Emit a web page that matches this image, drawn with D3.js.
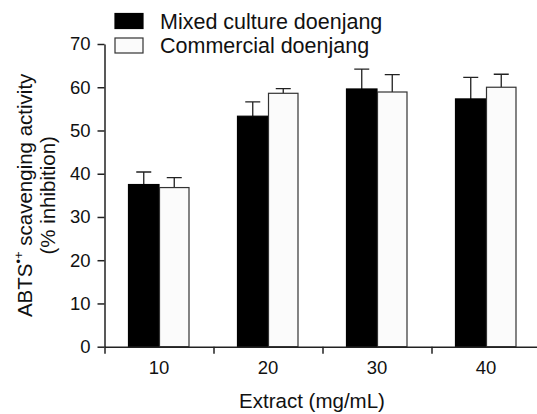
<!DOCTYPE html>
<html>
<head>
<meta charset="utf-8">
<script src="https://cdn.jsdelivr.net/npm/d3@7"></script>
<style>
  body { margin: 0; background: #fff; }
  svg text { font-family: "Liberation Sans", Arial, sans-serif; fill: #111; }
</style>
</head>
<body>
<div id="chart"></div>
<script>
// data
const extracts = ["10", "20", "30", "40"];
const seriesNames = ["Mixed culture doenjang", "Commercial doenjang"];
const mixedMean = [37.5, 53.3, 59.6, 57.3];
const mixedErr = [2.9, 3.3, 4.6, 5.0];
const commercialMean = [36.8, 58.6, 58.9, 60.0];
const commercialErr = [2.3, 1.1, 4.0, 3.0];
const yTicks = [0, 10, 20, 30, 40, 50, 60, 70];

const W = 537, H = 414;
const plot = { left: 104.5, right: 540.5, top: 44, bottom: 346.7 };

const svg = d3.select("#chart").append("svg")
  .attr("width", W)
  .attr("height", H);

// scales
const y = d3.scaleLinear().domain([0, 70]).range([plot.bottom, plot.top]);
const x = d3.scaleBand().domain(extracts).range([plot.left, plot.right]);
const xEdge = d3.scaleLinear().domain([0, extracts.length]).range([plot.left, plot.right]);
const xSub = d3.scaleBand().domain(seriesNames).range([0, 61]);
const groupOffset = (x.bandwidth() - xSub.range()[1]) / 2;

const colors = { fill: ["#000000", "#fbfbfb"], stroke: ["#000000", "#333333"] };

const rows = extracts.map((e, i) => ({
  extract: e,
  vals: [
    { name: seriesNames[0], mean: mixedMean[i], err: mixedErr[i], k: 0 },
    { name: seriesNames[1], mean: commercialMean[i], err: commercialErr[i], k: 1 }
  ]
}));

// bars
const groups = svg.append("g")
  .selectAll("g")
  .data(rows)
  .join("g")
  .attr("transform", d => `translate(${x(d.extract) + groupOffset},0)`);

// error bars (upper only)
groups.selectAll("path.err")
  .data(d => d.vals)
  .join("path")
  .attr("class", "err")
  .attr("fill", "none")
  .attr("stroke", "#222")
  .attr("stroke-width", 1.3)
  .attr("d", d => {
    const cx = xSub(d.name) + xSub.bandwidth() / 2;
    const yt = y(d.mean + d.err);
    return `M${cx},${y(d.mean)}V${yt}M${cx - 7.5},${yt}H${cx + 7.5}`;
  });

groups.selectAll("rect")
  .data(d => d.vals)
  .join("rect")
  .attr("x", d => xSub(d.name) + (d.k === 1 ? 0.5 : 0))
  .attr("width", d => xSub.bandwidth() - (d.k === 1 ? 1 : 0))
  .attr("y", d => y(d.mean))
  .attr("height", d => plot.bottom - y(d.mean))
  .attr("fill", d => colors.fill[d.k])
  .attr("stroke", d => colors.stroke[d.k])
  .attr("stroke-width", 1.2);

// y axis
const yAxis = svg.append("g")
  .attr("transform", `translate(${plot.left},0)`)
  .call(d3.axisLeft(y).tickValues(yTicks).tickSize(7).tickPadding(7).tickSizeOuter(0));
yAxis.selectAll("text").style("font-size", "18.5px");

// x axis: ticks at band edges, labels at band centres
const xAxis = svg.append("g")
  .attr("transform", `translate(0,${plot.bottom})`)
  .call(d3.axisBottom(xEdge).tickValues([0, 1, 2, 3]).tickFormat("").tickSize(7).tickSizeOuter(0));

const xLabels = svg.append("g")
  .attr("transform", `translate(0,${plot.bottom})`)
  .call(d3.axisBottom(x).tickSize(0).tickPadding(14));
xLabels.select(".domain").remove();
xLabels.selectAll("text").style("font-size", "18.5px");

svg.selectAll(".domain, .tick line")
  .attr("stroke", "#222")
  .attr("stroke-width", 1.5);

// axis titles
svg.append("text")
  .attr("x", 312)
  .attr("y", 408)
  .attr("text-anchor", "middle")
  .style("font-size", "20.5px")
  .text("Extract (mg/mL)");

const yMid = (plot.top + plot.bottom) / 2;
const yTitle = svg.append("text")
  .attr("transform", `translate(32,${yMid}) rotate(-90)`)
  .attr("text-anchor", "middle")
  .style("font-size", "20.5px");
yTitle.append("tspan").text("ABTS");
yTitle.append("tspan").attr("dy", -9).style("font-size", "13px").text("\u2022+");
yTitle.append("tspan").attr("dy", 9).text(" scavenging activity");

svg.append("text")
  .attr("transform", `translate(55,${yMid}) rotate(-90)`)
  .attr("text-anchor", "middle")
  .style("font-size", "20.5px")
  .text("(% inhibition)");

// legend
const legend = svg.append("g")
  .selectAll("g")
  .data(seriesNames)
  .join("g")
  .attr("transform", (d, i) => `translate(115,${13.5 + i * 24.5})`);

legend.append("rect")
  .attr("width", 28)
  .attr("height", 15)
  .attr("fill", (d, i) => colors.fill[i])
  .attr("stroke", (d, i) => colors.stroke[i])
  .attr("stroke-width", 1.2);

legend.append("text")
  .attr("x", 45)
  .attr("y", 15)
  .style("font-size", "21.5px")
  .text(d => d);
</script>
</body>
</html>
